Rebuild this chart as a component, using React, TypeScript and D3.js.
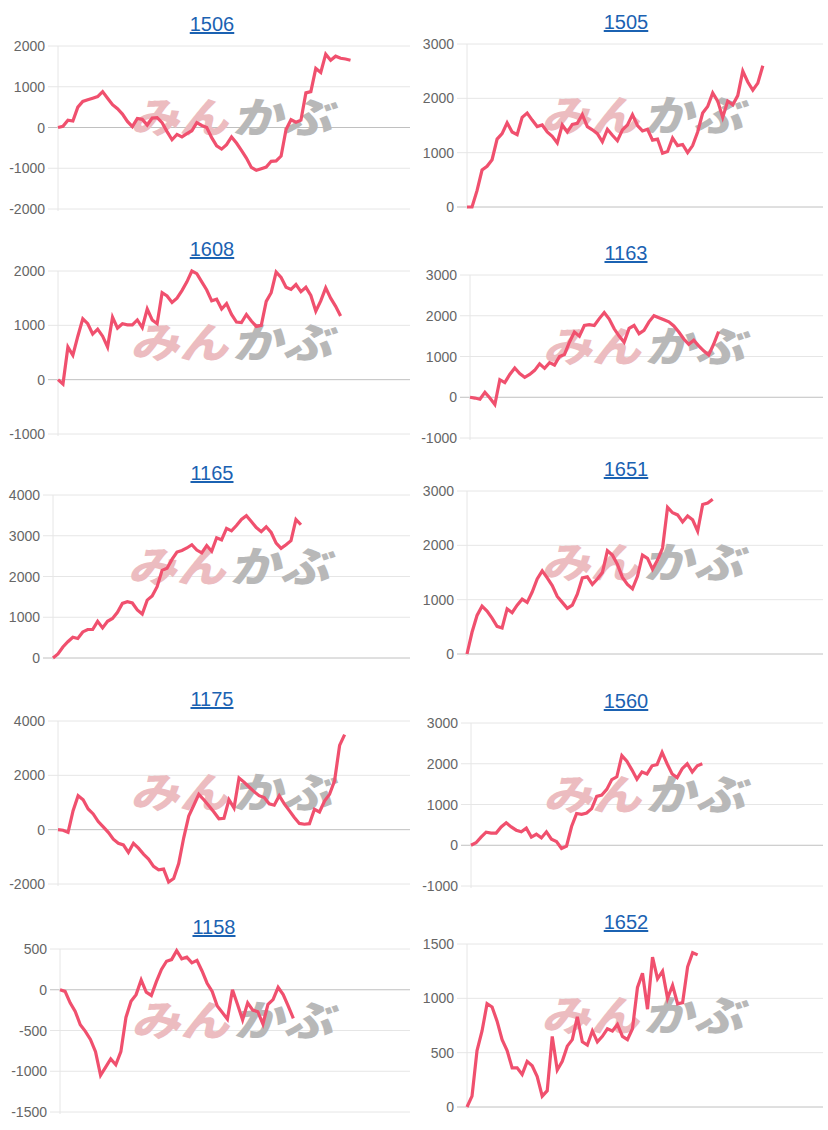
import React from "react";
import * as d3 from "d3";

// ---- data ----
const TITLES = ["1506", "1505", "1608", "1163", "1165", "1651", "1175", "1560", "1158", "1652"];
const SLOTS = [72, 72, 72, 72, 73, 72, 71, 71, 70, 72];
const Y_MIN = [-2000, 0, -1000, -1000, 0, 0, -2000, -1000, -1500, 0];
const Y_MAX = [2000, 3000, 2000, 3000, 4000, 3000, 4000, 3000, 500, 1500];
const Y_STEP = [1000, 1000, 1000, 1000, 1000, 1000, 2000, 1000, 500, 500];

const s1506 = [0, 30, 180, 160, 500, 640, 680, 720, 760, 880, 720, 560, 460, 330, 150, 20, 220, 200, 60, 230, 240, 120, -100, -300, -170, -230, -150, -80, 120, 50, 0, -250, -450, -530, -420, -230, -380, -560, -750, -980, -1050, -1010, -970, -830, -820, -700, -50, 190, 130, 180, 850, 880, 1450, 1350, 1800, 1650, 1750, 1700, 1680, 1650];
const s1505 = [0, 0, 300, 680, 750, 870, 1250, 1350, 1550, 1380, 1330, 1650, 1730, 1600, 1480, 1510, 1380, 1300, 1180, 1510, 1380, 1520, 1540, 1700, 1480, 1420, 1350, 1200, 1430, 1320, 1220, 1420, 1510, 1700, 1500, 1400, 1430, 1230, 1250, 990, 1020, 1270, 1130, 1150, 1000, 1130, 1380, 1730, 1850, 2100, 1950, 1650, 1950, 1880, 2050, 2500, 2300, 2150, 2280, 2600];
const s1608 = [0, -80, 600, 450, 800, 1120, 1030, 840, 930, 800, 600, 1150, 950, 1030, 1010, 1010, 1100, 960, 1300, 1100, 1030, 1600, 1540, 1420, 1500, 1640, 1800, 2000, 1950, 1800, 1650, 1450, 1480, 1300, 1400, 1200, 1060, 1050, 1200, 1080, 980, 1000, 1440, 1600, 1980, 1880, 1700, 1660, 1750, 1620, 1700, 1550, 1260, 1450, 1690, 1500, 1350, 1170];
const s1163 = [0, -20, -50, 120, -20, -180, 430, 360, 560, 720, 580, 490, 560, 660, 820, 710, 850, 790, 1000, 1050, 1350, 1600, 1500, 1760, 1780, 1760, 1930, 2080, 1920, 1680, 1500, 1350, 1690, 1760, 1560, 1640, 1850, 2000, 1950, 1900, 1850, 1750, 1600, 1430, 1300, 1400, 1260, 1140, 1040, 1300, 1610];
const s1165 = [0, 100, 270, 400, 510, 480, 640, 700, 700, 900, 740, 900, 970, 1120, 1340, 1380, 1350, 1180, 1080, 1420, 1520, 1750, 2150, 2200, 2420, 2600, 2640, 2700, 2780, 2650, 2580, 2760, 2620, 2950, 2900, 3180, 3120, 3250, 3400, 3490, 3350, 3200, 3100, 3220, 3080, 2820, 2690, 2780, 2880, 3400, 3270];
const s1651 = [0, 400, 710, 880, 790, 660, 510, 480, 830, 760, 900, 1010, 950, 1140, 1380, 1530, 1400, 1260, 1060, 950, 840, 900, 1100, 1400, 1420, 1280, 1380, 1500, 1900, 1820, 1650, 1410, 1280, 1200, 1430, 1820, 1760, 1560, 1730, 1950, 2700, 2600, 2560, 2430, 2540, 2470, 2260, 2750, 2780, 2850];
const s1175 = [0, -20, -100, 700, 1250, 1100, 760, 580, 300, 100, -100, -350, -500, -560, -840, -500, -680, -900, -1080, -1350, -1480, -1450, -1930, -1800, -1250, -300, 500, 900, 1300, 1100, 880, 650, 400, 420, 1100, 800, 1900, 1750, 1570, 1400, 1250, 1180, 950, 900, 1250, 950, 700, 450, 230, 200, 220, 750, 650, 1050, 1300, 1800, 3100, 3500];
const s1560 = [0, 60, 200, 320, 300, 300, 450, 550, 450, 370, 330, 420, 200, 270, 180, 330, 150, 90, -80, -20, 460, 780, 760, 790, 900, 1200, 1230, 1370, 1610, 1680, 2200, 2060, 1850, 1620, 1800, 1750, 1950, 1980, 2280, 2000, 1750, 1660, 1880, 2000, 1800, 1950, 2000];
const s1158 = [0, -20, -160, -265, -430, -510, -610, -760, -1050, -950, -850, -920, -760, -340, -140, -60, 120, -30, -70, 100, 250, 350, 370, 480, 380, 400, 330, 360, 230, 80, -20, -200, -280, -360, 0, -180, -370, -160, -250, -270, -420, -180, -120, 30, -60, -200, -350];
const s1652 = [0, 100, 520, 700, 950, 920, 790, 620, 520, 360, 360, 300, 420, 380, 280, 100, 150, 650, 340, 420, 560, 620, 830, 600, 570, 700, 600, 650, 720, 700, 760, 650, 620, 720, 1100, 1230, 900, 1380, 1180, 1250, 1000, 1120, 950, 960, 1290, 1420, 1400];

const SERIES = [s1506, s1505, s1608, s1163, s1165, s1651, s1175, s1560, s1158, s1652];

// ---- layout (not data) ----
const LAYOUT = [
  { left: 58, right: 410, top: 46, tx: 212 },
  { left: 467, right: 823, top: 44, tx: 626 },
  { left: 58, right: 410, top: 271, tx: 212 },
  { left: 470, right: 823, top: 275, tx: 626 },
  { left: 53, right: 410, top: 495, tx: 212 },
  { left: 467, right: 823, top: 491, tx: 626 },
  { left: 58, right: 410, top: 721, tx: 212 },
  { left: 471, right: 823, top: 723, tx: 626 },
  { left: 60, right: 410, top: 949, tx: 214 },
  { left: 467, right: 823, top: 944, tx: 626 },
];
const PLOT_H = 163;
const FONT = "'Liberation Sans', Arial, Helvetica, sans-serif";
const LINE_COLOR = "#f0506e";

function Panel({ i }: { i: number }) {
  const L = LAYOUT[i];
  const bottom = L.top + PLOT_H;
  const data = SERIES[i];
  const x = d3.scaleLinear().domain([0, SLOTS[i] - 1]).range([L.left, L.right]);
  const y = d3.scaleLinear().domain([Y_MIN[i], Y_MAX[i]]).range([bottom, L.top]);
  const ticks = d3.range(Y_MIN[i], Y_MAX[i] + Y_STEP[i] / 2, Y_STEP[i]);
  const line = d3
    .line<number>()
    .x((_, k) => x(k))
    .y((d) => y(d))
    .curve(d3.curveLinear);
  const cx = (L.left + L.right) / 2;
  const cy = (L.top + bottom) / 2 - 10;
  return (
    <g>
      <text
        x={L.tx}
        y={L.top - 15}
        textAnchor="middle"
        fontFamily={FONT}
        fontSize={20}
        fill="#1b62b2"
        textDecoration="underline"
        style={{ textDecoration: "underline" }}
      >
        {TITLES[i]}
      </text>
      {ticks.map((t) => (
        <g key={t}>
          <line
            x1={L.left - 10}
            x2={L.right}
            y1={y(t)}
            y2={y(t)}
            stroke={t === 0 ? "#c0c0c0" : "#e6e6e6"}
            strokeWidth={1}
          />
          <text
            x={L.left - 13}
            y={y(t)}
            textAnchor="end"
            dominantBaseline="central"
            fontFamily={FONT}
            fontSize={14}
            fill="#666"
          >
            {t}
          </text>
        </g>
      ))}
      <line x1={L.left} x2={L.left} y1={L.top} y2={bottom + 2} stroke="#e6e6e6" strokeWidth={1} />
      <g transform={`translate(${cx},${cy}) skewX(-14)`}>
        <text
          x={-100}
          y={15}
          fontFamily="'Noto Sans CJK JP', sans-serif"
          fontWeight={900}
          fontSize={42}
          fill="#ecbcc0"
          textLength={98}
          lengthAdjust="spacingAndGlyphs"
        >
          みん
        </text>
        <text
          x={2}
          y={15}
          fontFamily="'Noto Sans CJK JP', sans-serif"
          fontWeight={900}
          fontSize={42}
          fill="#b8b8b8"
          textLength={100}
          lengthAdjust="spacingAndGlyphs"
        >
          かぶ
        </text>
      </g>
      <path d={line(data) || ""} fill="none" stroke={LINE_COLOR} strokeWidth={3.2} strokeLinejoin="miter" />
    </g>
  );
}

export default function App() {
  return (
    <svg
      width={828}
      height={1130}
      style={{ position: "absolute", left: 0, top: 0, display: "block", background: "#fff" }}
    >
      {TITLES.map((_, i) => (
        <Panel key={i} i={i} />
      ))}
    </svg>
  );
}
